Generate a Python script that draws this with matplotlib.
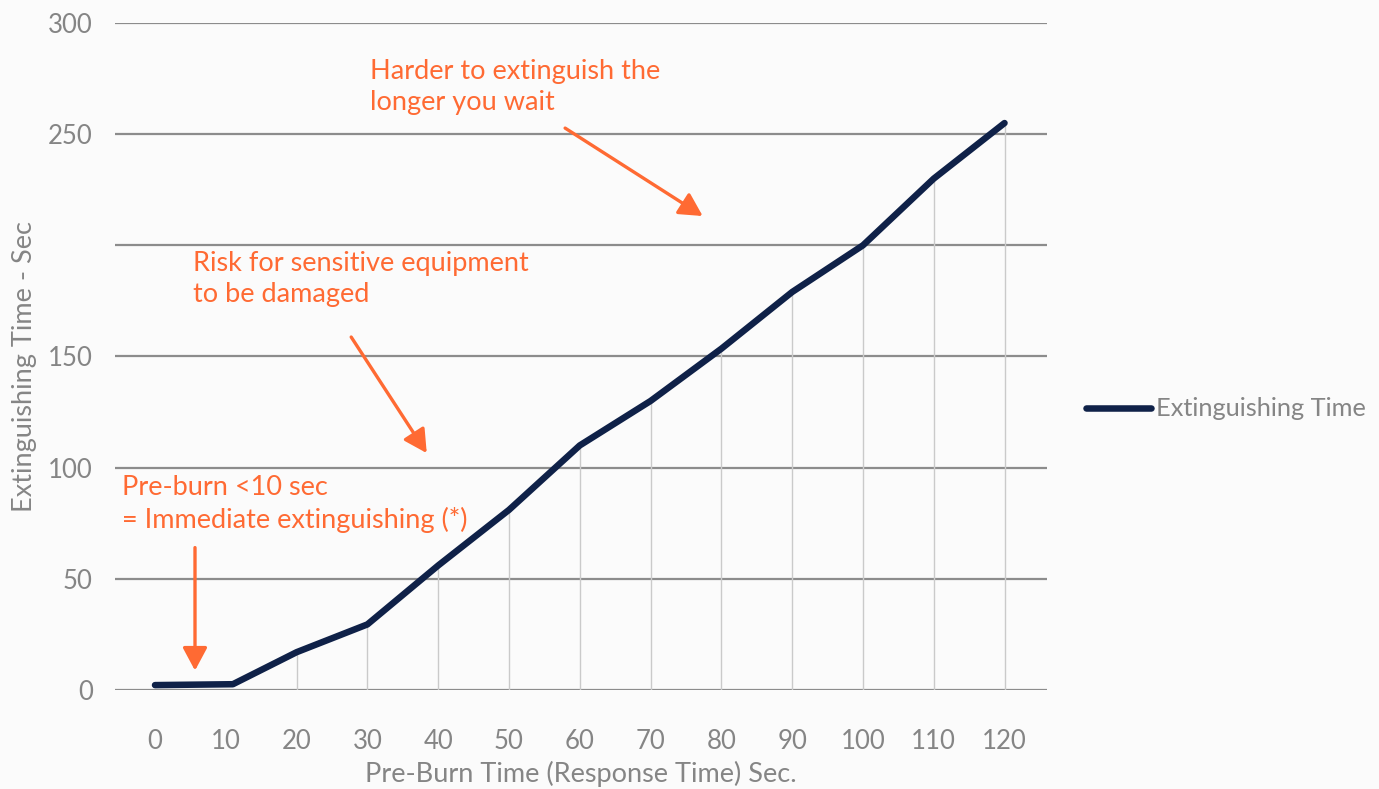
import matplotlib
matplotlib.use("Agg")
import matplotlib.pyplot as plt

pre_burn = [0, 11, 20, 30, 40, 50, 60, 70, 80, 90, 100, 110, 120]
ext_time = [2.2, 2.6, 17, 29.5, 56, 81, 110, 130, 153.5, 179, 200, 230, 255]
x_ticks = [0, 10, 20, 30, 40, 50, 60, 70, 80, 90, 100, 110, 120]
y_ticks = [0, 50, 100, 150, 200, 250, 300]
y_tick_labels = ["0", "50", "100", "150", "", "250", "300"]

plt.rcParams['font.family'] = ['Lato', 'DejaVu Sans']

LINE = '#0f2148'
ORANGE = '#ff6a33'
GRAY_TXT = '#858585'

fig = plt.figure(figsize=(13.79, 7.89), dpi=100, facecolor='#fbfbfb')
ax = fig.add_axes([115/1379, 1-690/789, 932/1379, 667/789])
ax.set_facecolor('none')

ax.set_xlim(-5.65, 126.0)
ax.set_ylim(0, 300)

for y in y_ticks:
    ax.axhline(y, color='#8c8c8c', lw=1.6, zorder=1)

for x, y in zip(pre_burn, ext_time):
    if x >= 20:
        ax.vlines(x, 0, y, color='#cacaca', lw=1.0, zorder=1)

ax.plot(pre_burn, ext_time, color=LINE, lw=4.7, solid_capstyle='round',
        solid_joinstyle='round', zorder=3, label='Extinguishing Time')

for s in ax.spines.values():
    s.set_visible(False)
ax.set_xticks(x_ticks)
ax.set_yticks(y_ticks)
ax.set_yticklabels(y_tick_labels)
ax.tick_params(axis='both', length=0, labelsize=18.5, colors=GRAY_TXT)
ax.tick_params(axis='y', pad=16)
ax.tick_params(axis='x', pad=28)

ax.set_xlabel('Pre-Burn Time (Response Time) Sec.', fontsize=19.5, color=GRAY_TXT, labelpad=5)
fig.text(25/1379, 1-367/789, 'Extinguishing Time - Sec', rotation=90, fontsize=19.5,
         color=GRAY_TXT, ha='center', va='center')

# annotations
tkw = dict(fontsize=19.5, color=ORANGE, ha='left', va='top', linespacing=1.3)
akw = dict(arrowstyle='-|>,head_length=1.4,head_width=0.75', color=ORANGE, lw=2.4)
ax.text(30.4, 284, 'Harder to extinguish the\nlonger you wait', **tkw)
ax.annotate('', xy=(77.7, 212.5), xytext=(57.6, 253.4), arrowprops=akw)
ax.text(5.4, 197.5, 'Risk for sensitive equipment\nto be damaged', **tkw)
ax.annotate('', xy=(38.6, 105.5), xytext=(27.5, 159.8), arrowprops=akw)
ax.text(-4.7, 96.5, 'Pre-burn <10 sec\n= Immediate extinguishing (*)', **tkw)
ax.annotate('', xy=(5.65, 7.5), xytext=(5.65, 65.3), arrowprops=akw)

leg = fig.legend(loc='center left', bbox_to_anchor=(1086/1379, 1-409/789),
                 frameon=False, fontsize=18.3, handlelength=2.55, handletextpad=0.2,
                 borderpad=0, borderaxespad=0, labelcolor=GRAY_TXT)

fig.savefig('out.png', dpi=100, facecolor=fig.get_facecolor())
